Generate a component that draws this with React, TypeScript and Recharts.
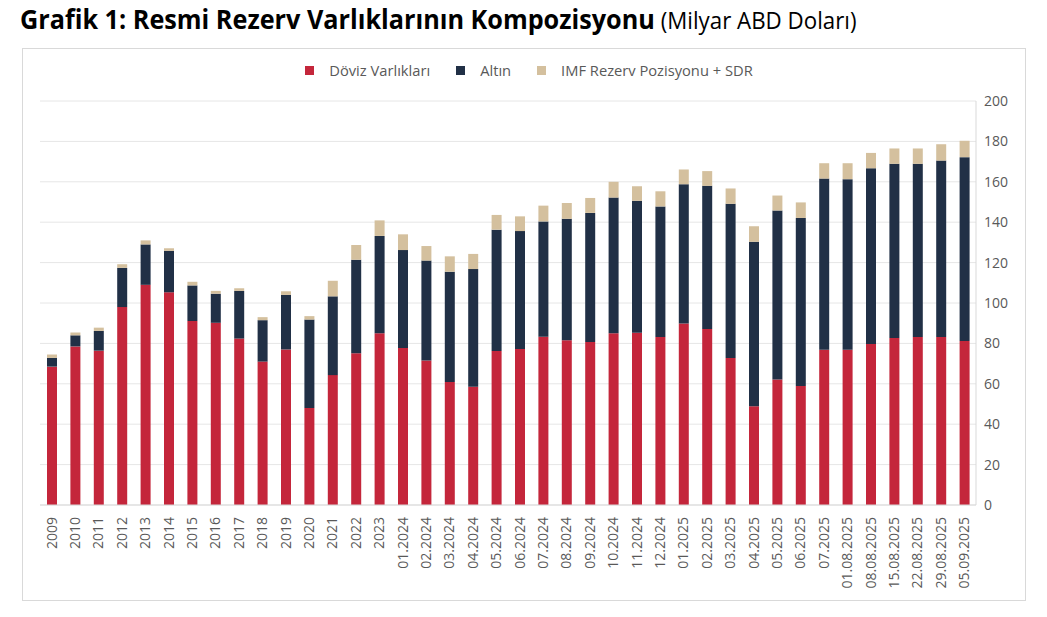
import React from 'react';
import { BarChart, Bar, XAxis, YAxis, CartesianGrid, Legend } from 'recharts';

const categories = [
  '2009', '2010', '2011', '2012', '2013', '2014', '2015', '2016', '2017', '2018',
  '2019', '2020', '2021', '2022', '2023',
  '01.2024', '02.2024', '03.2024', '04.2024', '05.2024', '06.2024',
  '07.2024', '08.2024', '09.2024', '10.2024', '11.2024', '12.2024',
  '01.2025', '02.2025', '03.2025', '04.2025', '05.2025', '06.2025', '07.2025',
  '01.08.2025', '08.08.2025', '15.08.2025', '22.08.2025', '29.08.2025', '05.09.2025',
];

const dovizVarliklari = [
  68.5, 78.5, 76.4, 98.0, 109.0, 105.3, 91.1, 90.2, 82.4, 71.0,
  77.0, 48.0, 64.3, 75.1, 85.0,
  77.7, 71.5, 60.9, 58.6, 76.2, 77.2,
  83.3, 81.5, 80.7, 85.0, 85.3, 83.2,
  89.9, 87.1, 72.8, 48.9, 62.1, 58.9, 76.9,
  76.9, 79.7, 82.7, 83.2, 83.2, 81.2,
];

const altin = [
  4.3, 5.5, 9.8, 19.4, 20.0, 20.5, 17.6, 14.4, 23.6, 20.5,
  27.0, 43.8, 39.0, 46.3, 48.2,
  48.5, 49.5, 54.6, 58.2, 60.1, 58.4,
  57.1, 60.2, 63.9, 67.2, 65.3, 64.6,
  68.9, 70.9, 76.3, 81.4, 83.7, 83.2, 84.7,
  84.4, 87.0, 86.2, 85.7, 87.3, 91.0,
];

const imfSdr = [
  1.7, 1.4, 1.6, 1.8, 2.0, 1.3, 1.8, 1.4, 1.3, 1.5,
  1.8, 1.7, 7.7, 7.3, 7.7,
  7.8, 7.2, 7.6, 7.5, 7.3, 7.3,
  7.8, 7.8, 7.4, 7.8, 7.2, 7.5,
  7.3, 7.3, 7.6, 7.7, 7.4, 7.7, 7.6,
  7.9, 7.6, 7.6, 7.6, 8.1, 8.1,
];

const yTicks = [0, 20, 40, 60, 80, 100, 120, 140, 160, 180, 200];

const seriesNames = ['Döviz Varlıkları', 'Altın', 'IMF Rezerv Pozisyonu + SDR'];

const data = categories.map((name, i) => ({
  name,
  doviz: dovizVarliklari[i],
  altin: altin[i],
  imf: imfSdr[i],
}));

const FONT = '"Open Sans", "Noto Sans", sans-serif';
const GRAY = '#595959';

const XTick = (props: any) => {
  const { x, y, payload } = props;
  return (
    <g transform={`translate(${x},${y})`}>
      <text
        transform="rotate(-90)"
        x={-12}
        y={0}
        dy="0.35em"
        textAnchor="end"
        fill={GRAY}
        fontSize={14}
        fontFamily={FONT}
      >
        {payload.value}
      </text>
    </g>
  );
};

const renderLegend = (props: any) => {
  const items = [...(props.payload || [])].sort(
    (a: any, b: any) => seriesNames.indexOf(a.value) - seriesNames.indexOf(b.value)
  );
  return (
    <div
      style={{
        display: 'flex',
        justifyContent: 'center',
        alignItems: 'center',
        height: 20,
        paddingLeft: 11,
        fontFamily: FONT,
        fontSize: 14.7,
        color: GRAY,
      }}
    >
      {items.map((entry: any, i: number) => (
        <div
          key={entry.value}
          style={{ display: 'flex', alignItems: 'center', marginRight: i < items.length - 1 ? 26 : 0 }}
        >
          <span style={{ width: 9, height: 9, background: entry.color, marginRight: 15, display: 'inline-block' }} />
          <span>{entry.value}</span>
        </div>
      ))}
    </div>
  );
};

export default function App() {
  return (
    <div style={{ position: 'absolute', left: 0, top: 0, width: 1047, height: 617, background: '#fff', fontFamily: FONT }}>
      <div
        style={{
          position: 'absolute',
          left: 20,
          top: 1,
          whiteSpace: 'nowrap',
          transform: 'scaleX(0.97)',
          transformOrigin: 'left center',
          color: '#000',
        }}
      >
        <span style={{ fontSize: 26, fontWeight: 700 }}>Grafik 1: Resmi Rezerv Varlıklarının Kompozisyonu</span>
        <span style={{ fontSize: 23, fontWeight: 400 }}> (Milyar ABD Doları)</span>
      </div>
      <div
        style={{
          position: 'absolute',
          left: 22,
          top: 48,
          width: 1002,
          height: 551,
          border: '1px solid #d9d9d9',
        }}
      />
      <div style={{ position: 'absolute', left: 0, top: 0 }}>
        <BarChart
          width={1047}
          height={617}
          data={data}
          margin={{ top: 81, right: 31, bottom: 22, left: 40 }}
          barSize={10}
        >
          <CartesianGrid vertical={false} stroke="#e6e6e6" />
          <XAxis
            dataKey="name"
            interval={0}
            height={90}
            tickLine={false}
            tickSize={0}
            tickMargin={0}
            axisLine={{ stroke: '#d9d9d9' }}
            tick={<XTick />}
          />
          <YAxis
            yAxisId="left"
            orientation="left"
            width={0}
            tick={false}
            tickLine={false}
            axisLine={{ stroke: '#d9d9d9' }}
            domain={[0, 200]}
          />
          <YAxis
            orientation="right"
            width={40}
            domain={[0, 200]}
            ticks={yTicks}
            tickLine={false}
            axisLine={{ stroke: '#d9d9d9' }}
            tick={{ fill: GRAY, fontSize: 14, fontFamily: FONT }}
          />
          <Legend
            verticalAlign="top"
            content={renderLegend}
            wrapperStyle={{ top: 60, left: 0, width: 1047 }}
          />
          <Bar dataKey="doviz" name={seriesNames[0]} stackId="a" fill="#C4263B" isAnimationActive={false} />
          <Bar dataKey="altin" name={seriesNames[1]} stackId="a" fill="#213046" isAnimationActive={false} />
          <Bar dataKey="imf" name={seriesNames[2]} stackId="a" fill="#D4C09E" isAnimationActive={false} />
        </BarChart>
      </div>
    </div>
  );
}
